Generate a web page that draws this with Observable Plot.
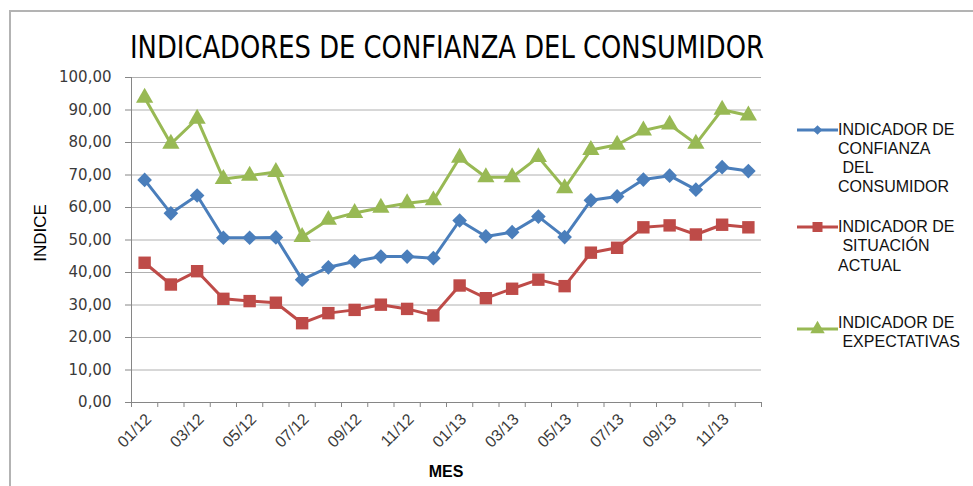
<!DOCTYPE html>
<html><head><meta charset="utf-8">
<script src="https://cdn.jsdelivr.net/npm/d3@7"></script>
<script src="https://cdn.jsdelivr.net/npm/@observablehq/plot@0.6"></script>
<style>
body{margin:0;background:#fff;}
#wrap{position:relative;width:973px;height:486px;overflow:hidden;background:#fff;}
#frame{position:absolute;left:9px;top:10px;width:980px;height:490px;border-top:2px solid #b3b3b3;border-left:2px solid #b3b3b3;}
#chart{position:absolute;left:0;top:0;}
#overlay{position:absolute;left:0;top:0;}
</style></head><body>
<div id="wrap"><div id="frame"></div><div id="chart"></div><svg id="overlay" width="973" height="486"></svg></div>
<script>
const months = ["01/12","02/12","03/12","04/12","05/12","06/12","07/12","08/12","09/12","10/12","11/12","12/12",
                "01/13","02/13","03/13","04/13","05/13","06/13","07/13","08/13","09/13","10/13","11/13","12/13"];
const tickLabels = ["01/12","03/12","05/12","07/12","09/12","11/12","01/13","03/13","05/13","07/13","09/13","11/13"];
const yTicks = [0,10,20,30,40,50,60,70,80,90,100];

const confianza    = [68.5,58.2,63.7,50.7,50.7,50.8,37.8,41.6,43.4,44.9,44.9,44.4,56.0,51.1,52.4,57.2,50.9,62.2,63.4,68.6,69.8,65.5,72.4,71.2];
const situacion    = [43.0,36.3,40.4,31.9,31.2,30.7,24.4,27.5,28.5,30.1,28.8,26.8,36.0,32.1,35.0,37.8,35.8,46.1,47.6,53.9,54.5,51.7,54.7,53.9];
const expectativas = [93.8,79.6,87.3,68.8,69.8,70.9,50.9,56.2,58.3,59.9,61.3,62.2,75.3,69.3,69.3,75.5,65.9,77.7,79.3,83.7,85.5,79.6,90.1,88.3];

const seriesNames = ["INDICADOR DE CONFIANZA DEL CONSUMIDOR","INDICADOR DE SITUACIÓN ACTUAL","INDICADOR DE EXPECTATIVAS"];
const legendLines = [["INDICADOR DE","CONFIANZA"," DEL","CONSUMIDOR"],["INDICADOR DE"," SITUACIÓN","ACTUAL"],["INDICADOR DE"," EXPECTATIVAS"]];
const seriesColors = ["#4a7ebb","#be4b48","#98b954"];
const seriesSymbols = ["diamond2","square","triangle"];
const seriesR = [6.6,7.0,6.4];
const seriesValues = [confianza, situacion, expectativas];

const fmt = v => v.toFixed(2).replace(".", ",");

const marks = [
  Plot.ruleY(yTicks.filter(v => v > 0), {y: d => d, stroke: "#b0b0b0", strokeWidth: 1}),
  Plot.axisY({ticks: yTicks, tickSize: 6, tickPadding: 14, tickFormat: fmt, stroke: "#868686", fill: "#3a3a3a",
              label: null, fontSize: 15, fontFamily: "DejaVu Sans"}),
  Plot.ruleX([0], {x: d => d, stroke: "#868686"}),
  Plot.ruleY([0], {y: d => d, stroke: "#868686"}),
  Plot.axisX({ticks: d3.range(months.length + 1), tickSize: 5, tickFormat: () => "", stroke: "#868686", label: null}),
  Plot.text(tickLabels, {x: d => months.indexOf(d) + 0.5, y: d => 0, text: d => d, rotate: -45, textAnchor: "end",
              dx: 4, dy: 14, fontSize: 16, fontFamily: "Liberation Sans", fill: "#3a3a3a"})
];
seriesValues.forEach((vals, s) => {
  marks.push(Plot.line(vals, {x: (d, i) => i + 0.5, y: d => d, stroke: seriesColors[s], strokeWidth: 3, strokeLinejoin: "round"}));
  marks.push(Plot.dot(vals, {x: (d, i) => i + 0.5, y: d => d, symbol: seriesSymbols[s], r: seriesR[s], fill: seriesColors[s], stroke: "none"}));
});

const chart = Plot.plot({
  width: 973, height: 486,
  marginLeft: 131, marginRight: 212, marginTop: 77, marginBottom: 84,
  style: {fontFamily: "DejaVu Sans", fontSize: "14px", background: "transparent", overflow: "visible"},
  x: {domain: [0, months.length]},
  y: {domain: [0, 100]},
  marks
});
document.getElementById("chart").appendChild(chart);

// overlay: title, axis titles, legend
const svg = d3.select("#overlay");
svg.append("text").attr("x", 130).attr("y", 58).attr("textLength", 634).attr("lengthAdjust", "spacingAndGlyphs")
  .attr("font-family", "'Liberation Sans Narrow', 'DejaVu Sans Condensed', 'Liberation Sans'").attr("font-size", 32)
  .attr("fill", "#000").text("INDICADORES DE CONFIANZA DEL CONSUMIDOR");
svg.append("text").attr("transform", "translate(46,233) rotate(-90)").attr("text-anchor", "middle")
  .attr("font-family", "Liberation Sans").attr("font-size", 17).attr("fill", "#000").text("INDICE");
svg.append("text").attr("x", 446).attr("y", 477).attr("text-anchor", "middle")
  .attr("font-family", "Liberation Sans").attr("font-weight", "bold").attr("font-size", 16).attr("fill", "#000").text("MES");

const legendY = [130, 227, 329];
const legendBase = [[134.5,153.5,172.5,191.5],[231.5,251,270.5],[327.5,346.5]];
const symbolMap = {diamond2: d3.symbolDiamond2, square: d3.symbolSquare, triangle: d3.symbolTriangle};
const legendSize = [60, 100, 90];
seriesNames.forEach((name, s) => {
  const g = svg.append("g");
  g.append("line").attr("x1", 797).attr("x2", 838).attr("y1", legendY[s]).attr("y2", legendY[s])
    .attr("stroke", seriesColors[s]).attr("stroke-width", 3);
  g.append("path").attr("transform", `translate(817.5,${legendY[s]})`)
    .attr("d", d3.symbol(symbolMap[seriesSymbols[s]], legendSize[s])()).attr("fill", seriesColors[s]);
  const t = g.append("text").attr("font-family", "Liberation Sans").attr("font-size", 16).attr("fill", "#111")
    .style("white-space", "pre");
  legendLines[s].forEach((ln, k) => t.append("tspan").attr("x", 838).attr("y", legendBase[s][k]).text(ln));
});
</script>
</body></html>
